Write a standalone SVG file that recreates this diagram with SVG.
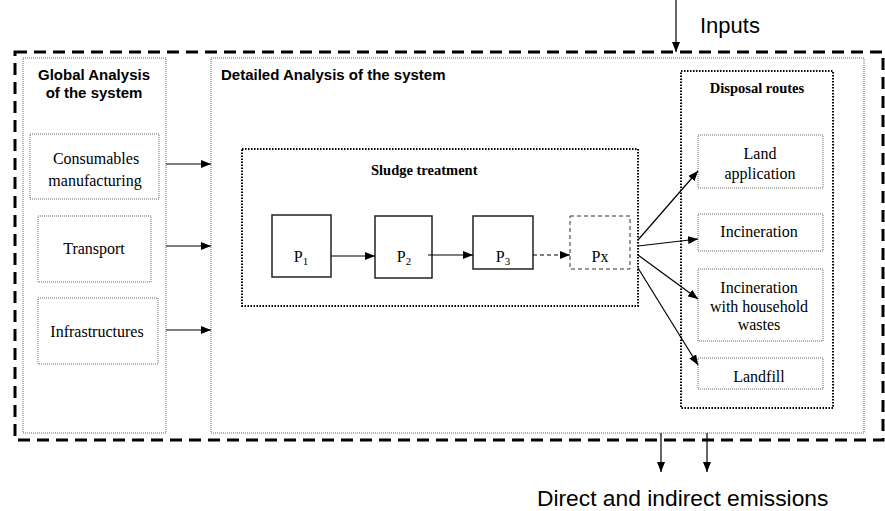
<svg xmlns="http://www.w3.org/2000/svg" width="885" height="511" viewBox="0 0 885 511">
<style>
.sans{font-family:"Liberation Sans",Arial,sans-serif;fill:#000}
.bsans{font-family:"Liberation Sans",Arial,sans-serif;font-weight:bold;font-size:15px;fill:#000}
.rom{font-family:"Liberation Serif","Times New Roman",Times,serif;font-size:16px;fill:#000;text-anchor:middle}
.brom{font-family:"Liberation Serif","Times New Roman",Times,serif;font-size:14.5px;font-weight:bold;fill:#000}
.outer{fill:none;stroke:#000;stroke-width:3;stroke-dasharray:12 7}
.thin{fill:#fff;stroke:#666;stroke-width:1;stroke-dasharray:1 1}
.heavy{fill:none;stroke:#000;stroke-width:2;stroke-dasharray:1.5 1.5}
.proc{fill:#fff;stroke:#222;stroke-width:1.5}
.procx{fill:#fff;stroke:#333;stroke-width:1;stroke-dasharray:4 3}
.conn{fill:none;stroke:#000;stroke-width:1.2}
</style>
<defs>
<marker id="ah" markerUnits="userSpaceOnUse" markerWidth="10" markerHeight="8" refX="10" refY="4" orient="auto">
<path d="M0,0 L10,4 L0,8 z" fill="#000"/>
</marker>
</defs>

<g id="system-boundary">
<rect class="outer" x="15" y="52" width="868" height="388"/>
</g>

<g id="global-analysis">
<rect class="thin" x="23" y="58" width="143" height="375"/>
<text class="bsans" x="94" y="80" text-anchor="middle">Global Analysis</text>
<text class="bsans" x="94" y="98" text-anchor="middle">of the system</text>
</g>

<g id="detailed-analysis">
<rect class="thin" x="211" y="58" width="653" height="375"/>
<text class="bsans" x="221" y="80">Detailed Analysis of the system</text>
</g>

<g id="consumables">
<rect class="thin" x="30" y="134" width="129" height="65"/>
<text class="rom" x="96" y="164" font-family="Liberation Serif, serif">Consumables</text>
<text class="rom" x="95" y="186" font-family="Liberation Serif, serif">manufacturing</text>
</g>

<g id="transport">
<rect class="thin" x="38" y="216" width="113" height="66"/>
<text class="rom" x="94" y="254" font-family="Liberation Serif, serif">Transport</text>
</g>

<g id="infrastructures">
<rect class="thin" x="38" y="298" width="120" height="66"/>
<text class="rom" x="97" y="337" font-family="Liberation Serif, serif">Infrastructures</text>
</g>

<g id="sludge-treatment">
<rect class="heavy" x="242" y="149" width="396" height="157"/>
<text class="brom" x="371" y="175">Sludge treatment</text>
</g>

<g id="p1">
<rect class="proc" x="272" y="215" width="59" height="62"/>
<text class="rom" x="301" y="262" font-family="Liberation Serif, serif">P<tspan font-size="11" dy="3">1</tspan></text>
</g>

<g id="p2">
<rect class="proc" x="375" y="216" width="57" height="62"/>
<text class="rom" x="404" y="262" font-family="Liberation Serif, serif">P<tspan font-size="11" dy="3">2</tspan></text>
</g>

<g id="p3">
<rect class="proc" x="473" y="216" width="60" height="53"/>
<text class="rom" x="503" y="262" font-family="Liberation Serif, serif">P<tspan font-size="11" dy="3">3</tspan></text>
</g>

<g id="px">
<rect class="procx" x="570" y="216" width="60" height="53"/>
<text class="rom" x="600" y="262" font-family="Liberation Serif, serif">Px</text>
</g>

<g id="disposal-routes">
<rect class="heavy" x="681" y="71" width="152" height="337"/>
<text class="brom" x="757" y="93" text-anchor="middle">Disposal routes</text>
</g>

<g id="land-application">
<rect class="thin" x="698" y="135" width="125" height="53"/>
<text class="rom" x="760" y="159" font-family="Liberation Serif, serif">Land</text>
<text class="rom" x="760" y="179" font-family="Liberation Serif, serif">application</text>
</g>

<g id="incineration">
<rect class="thin" x="698" y="214" width="125" height="37"/>
<text class="rom" x="759" y="237" font-family="Liberation Serif, serif">Incineration</text>
</g>

<g id="incineration-household">
<rect class="thin" x="698" y="269" width="125" height="72"/>
<text class="rom" x="759" y="293" font-family="Liberation Serif, serif">Incineration</text>
<text class="rom" x="759" y="312" font-family="Liberation Serif, serif">with household</text>
<text class="rom" x="759" y="330" font-family="Liberation Serif, serif">wastes</text>
</g>

<g id="landfill">
<rect class="thin" x="698" y="358" width="125" height="31"/>
<text class="rom" x="759" y="382" font-family="Liberation Serif, serif">Landfill</text>
</g>

<g id="inputs">
<text class="sans" x="700" y="33" font-size="22">Inputs</text>
</g>

<g id="emissions">
<text class="sans" x="537" y="506" font-size="22.8">Direct and indirect emissions</text>
</g>

<g id="connectors">
<line class="conn" x1="676" y1="0" x2="676" y2="52" marker-end="url(#ah)"/>
<line class="conn" x1="661" y1="433" x2="661" y2="472" marker-end="url(#ah)"/>
<line class="conn" x1="707" y1="433" x2="707" y2="472" marker-end="url(#ah)"/>
<line class="conn" x1="166" y1="164" x2="211" y2="164" marker-end="url(#ah)"/>
<line class="conn" x1="166" y1="246" x2="211" y2="246" marker-end="url(#ah)"/>
<line class="conn" x1="166" y1="330" x2="211" y2="330" marker-end="url(#ah)"/>
<line class="conn" x1="331" y1="256" x2="375" y2="256" marker-end="url(#ah)"/>
<line class="conn" x1="428" y1="255" x2="473" y2="255" marker-end="url(#ah)"/>
<line class="conn" x1="533" y1="255" x2="570" y2="255" stroke-dasharray="4 3" marker-end="url(#ah)"/>
<line class="conn" x1="638" y1="240" x2="698" y2="171" marker-end="url(#ah)"/>
<line class="conn" x1="638" y1="246" x2="698" y2="239" marker-end="url(#ah)"/>
<line class="conn" x1="638" y1="255" x2="698" y2="299" marker-end="url(#ah)"/>
<line class="conn" x1="638" y1="268" x2="698" y2="365" marker-end="url(#ah)"/>
</g>
</svg>
